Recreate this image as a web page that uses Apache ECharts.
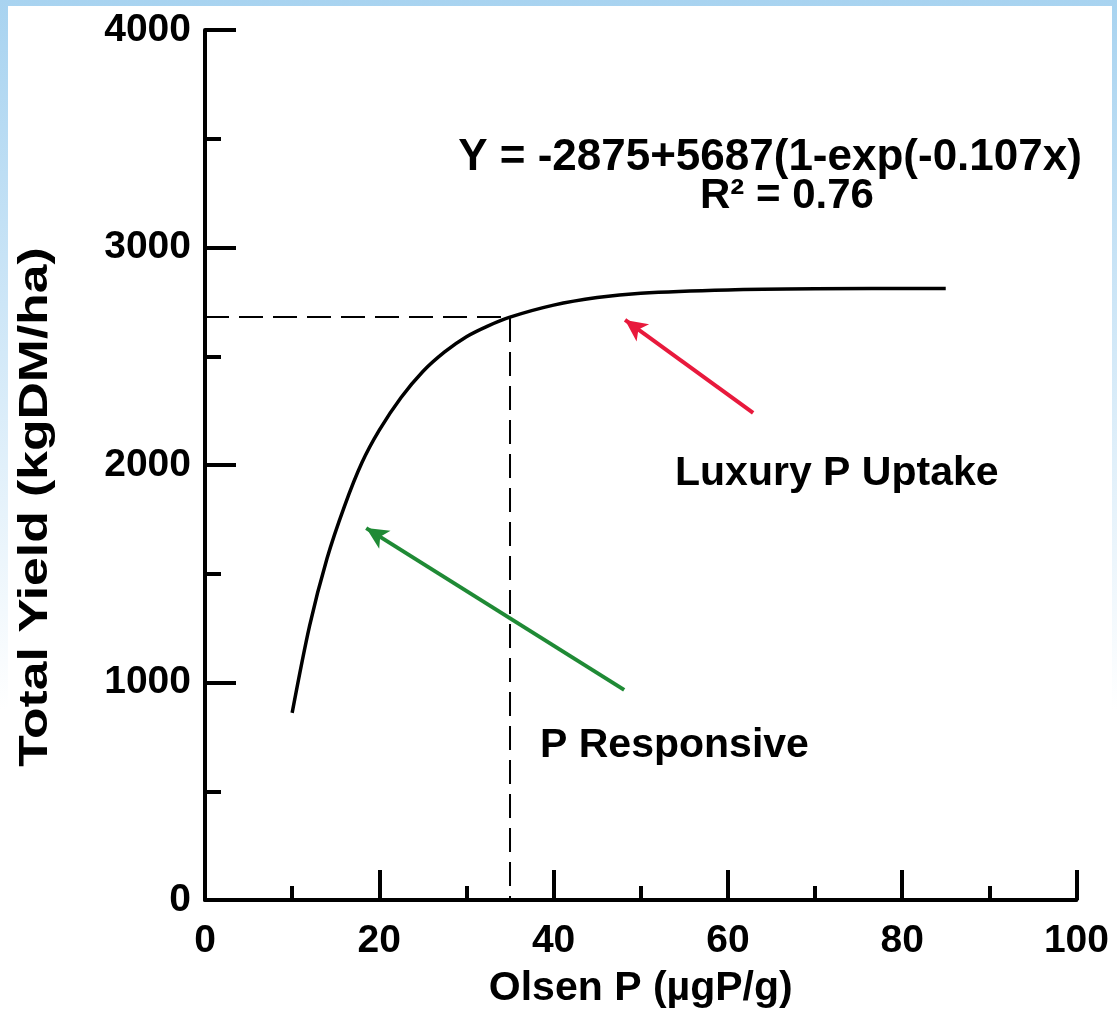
<!DOCTYPE html>
<html>
<head>
<meta charset="utf-8">
<script src="https://cdn.jsdelivr.net/npm/echarts@6/dist/echarts.min.js"></script>
<style>
    html, body { margin: 0; padding: 0; }
    body {
        width: 1117px; height: 1014px; position: relative; overflow: hidden;
        background: linear-gradient(to bottom, #a8d3f0 0%, #cde6f7 30%, #ffffff 70%);
    }
    #main {
        position: absolute; left: 8px; top: 6px;
        width: 1104px; height: 1008px; background: #ffffff;
    }
</style>
</head>
<body>
<div id="main"></div>
<script>
// fitted curve
let olsenP   = [10, 12, 14, 16, 18, 20, 22.5, 25, 27.5, 30, 32.5, 35, 40, 45, 50, 60, 70, 85];
let yieldDM  = [860, 1260, 1570, 1810, 2010, 2160, 2310, 2430, 2520, 2590, 2640, 2680, 2735, 2770, 2790, 2805, 2810, 2812];

// dashed guide through the critical point
let guideX = [0, 35, 35];
let guideY = [2680, 2680, 0];

// arrows: [fromX, fromY, toX, toY]
let luxuryArrow     = [62.9, 2240, 48.2, 2667];
let responsiveArrow = [48.1, 966, 18.5, 1710];

let xTicks = [0, 20, 40, 60, 80, 100];
let yTicks = [0, 1000, 2000, 3000, 4000];

let equationText = 'Y = -2875+5687(1-exp(-0.107x)';
let r2Text       = 'R² = 0.76';
let luxuryText   = 'Luxury P Uptake';
let respText     = 'P Responsive';
let xTitle       = 'Olsen P (µgP/g)';
let yTitle       = 'Total Yield (kgDM/ha)';

let font = "'Liberation Sans', Arial, sans-serif";

let chart = echarts.init(document.getElementById('main'));

let zip = (xs, ys) => xs.map((x, i) => [x, ys[i]]);
let arrowLine = (a, color) => [
    { coord: [a[0], a[1]], lineStyle: { color: color, width: 4, type: 'solid' }, itemStyle: { color: color } },
    { coord: [a[2], a[3]] }
];

let axisCommon = {
    type: 'value',
    axisLine: { show: true, lineStyle: { color: '#000', width: 4 } },
    axisTick: { show: true, inside: true, lineStyle: { color: '#000', width: 4 } },
    minorTick: { show: true, splitNumber: 2, lineStyle: { color: '#000', width: 4 } },
    splitLine: { show: false },
    axisLabel: { color: '#000', fontFamily: font, fontWeight: 'bold', fontSize: 39, formatter: (v) => String(v) }
};

let option = {
    animation: false,
    grid: { left: 197, right: 30, top: 24, bottom: 114 },
    xAxis: Object.assign({}, axisCommon, {
        min: xTicks[0], max: xTicks[xTicks.length - 1], interval: 20,
        axisTick: Object.assign({}, axisCommon.axisTick, { length: 30 }),
        minorTick: Object.assign({}, axisCommon.minorTick, { length: 14 }),
        axisLabel: Object.assign({}, axisCommon.axisLabel, { margin: 22 }),
        name: xTitle, nameLocation: 'middle', nameGap: 68,
        nameTextStyle: { color: '#000', fontFamily: font, fontWeight: 'bold', fontSize: 41 }
    }),
    yAxis: Object.assign({}, axisCommon, {
        min: yTicks[0], max: yTicks[yTicks.length - 1], interval: 1000,
        axisTick: Object.assign({}, axisCommon.axisTick, { length: 31 }),
        minorTick: Object.assign({}, axisCommon.minorTick, { length: 16 }),
        axisLabel: Object.assign({}, axisCommon.axisLabel, { margin: 14 })
    }),
    graphic: [
        { type: 'text', x: 28, y: 501, rotation: Math.PI / 2, scaleX: 1.26,
          style: { text: yTitle, fill: '#000', font: 'bold 41px ' + font, align: 'center', verticalAlign: 'middle' } },
        { type: 'text', x: 762, y: 152,
          style: { text: equationText, fill: '#000', font: 'bold 44px ' + font, align: 'center', verticalAlign: 'middle' } },
        { type: 'text', x: 779, y: 190,
          style: { text: r2Text, fill: '#000', font: 'bold 42px ' + font, align: 'center', verticalAlign: 'middle' } },
        { type: 'text', x: 667, y: 468,
          style: { text: luxuryText, fill: '#000', font: 'bold 41px ' + font, align: 'left', verticalAlign: 'middle' } },
        { type: 'text', x: 532, y: 740,
          style: { text: respText, fill: '#000', font: 'bold 41px ' + font, align: 'left', verticalAlign: 'middle' } }
    ],
    series: [
        {
            type: 'line',
            data: zip(guideX, guideY),
            symbol: 'none',
            lineStyle: { color: '#000', width: 2, type: [24, 10] },
            z: 2
        },
        {
            type: 'line',
            data: zip(olsenP, yieldDM),
            symbol: 'none',
            smooth: 0.3,
            lineStyle: { color: '#000', width: 3.5 },
            z: 3
        },
        {
            type: 'line',
            data: [],
            markLine: {
                silent: true,
                symbol: ['none', 'arrow'],
                symbolSize: [16, 22],
                label: { show: false },
                data: [
                    arrowLine(luxuryArrow, '#e8193c'),
                    arrowLine(responsiveArrow, '#1f8a35')
                ]
            }
        }
    ]
};

chart.setOption(option);
</script>
</body>
</html>
